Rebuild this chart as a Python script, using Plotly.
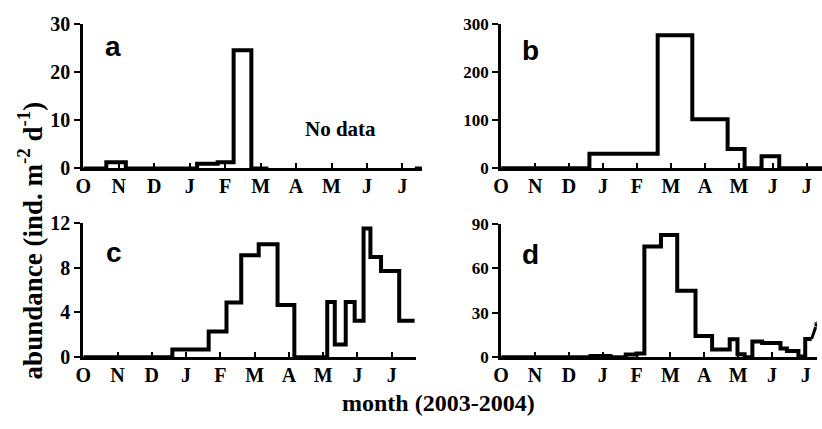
import plotly.graph_objects as go

W, H = 822, 429

months = ["O", "N", "D", "J", "F", "M", "A", "M", "J", "J"]
month_pos = list(range(10))

# Panel a (step edges in months since 1 Oct, values)
a_edges = [0, 0.65, 1.2, 3.21, 3.79, 4.24, 4.74, 5.22]
a_vals = [0, 1.3, 0, 1.0, 1.3, 24.5, 0]
a2_edges = [9.35, 9.55]
a2_vals = [0]

# Panel b
b_edges = [0, 2.6, 4.61, 5.63, 6.67, 7.17, 7.67, 8.19, 9.45]
b_vals = [0, 30, 277, 102, 40, 0, 25, 0]

# Panel c
c_edges = [0, 2.6, 3.66, 4.18, 4.61, 5.12, 5.67, 6.16, 7.12, 7.34, 7.66, 7.92, 8.18, 8.38, 8.69, 9.22, 9.67]
c_vals = [0, 0.7, 2.3, 4.9, 9.1, 10.1, 4.66, 0, 4.94, 1.13, 4.94, 3.25, 11.5, 8.96, 7.7, 3.25]

# Panel d
d_edges = [0, 2.64, 3.23, 3.68, 4.0, 4.23, 4.72, 5.2, 5.74, 6.23, 6.75, 6.98, 7.19, 7.42, 7.71, 8.25, 8.44, 8.78, 8.98, 9.17]
d_vals = [0, 0.9, 0, 1.9, 2.6, 74.7, 82.5, 44.8, 14.3, 5.3, 12.2, 2.1, 0, 10.7, 9.6, 6.0, 4.3, 0.6, 12.4]
d_tail_x = [9.17, 9.32]
d_tail_y = [12.4, 22.4]


def px_x(p):
    return p / W


def px_y(p):
    return 1 - p / H


def step_xy(edges, vals):
    return list(edges), list(vals) + [vals[-1]]


panels = {
    "a": dict(xl=76, xr=418, xmax=9.55, yb=166, yt=13.5, ymax=30, yticks=[0, 10, 20, 30], ysize=20),
    "b": dict(xl=498, xr=822, xmax=9.45, yb=165.7, yt=14, ymax=300, yticks=[0, 100, 200, 300], ysize=17),
    "c": dict(xl=76, xr=412, xmax=9.71, yb=365, yt=223.3, ymax=12, yticks=[0, 4, 8, 12], ysize=20),
    "d": dict(xl=498, xr=817, xmax=9.33, yb=365, yt=224.3, ymax=90, yticks=[0, 30, 60, 90], ysize=17),
}

fig = go.Figure()
line = dict(color="black", width=4)

series = {
    "a": [(a_edges, a_vals), (a2_edges, a2_vals)],
    "b": [(b_edges, b_vals)],
    "c": [(c_edges, c_vals)],
    "d": [(d_edges, d_vals)],
}

layout = {}
for i, key in enumerate(["a", "b", "c", "d"]):
    n = i + 1
    xa = "x" if n == 1 else f"x{n}"
    ya = "y" if n == 1 else f"y{n}"
    for edges, vals in series[key]:
        x, y = step_xy(edges, vals)
        fig.add_trace(go.Scatter(x=x, y=y, mode="lines", line=dict(shape="hv", **line),
                                 xaxis=xa, yaxis=ya, showlegend=False, hoverinfo="skip"))
    p = panels[key]
    xname = "xaxis" if n == 1 else f"xaxis{n}"
    yname = "yaxis" if n == 1 else f"yaxis{n}"
    layout[xname] = dict(
        domain=[px_x(p["xl"]), min(1.0, px_x(p["xr"]))],
        range=[0, p["xmax"]], anchor=ya,
        showline=True, linecolor="black", linewidth=3,
        showgrid=False, zeroline=False,
        tickvals=month_pos, ticktext=months,
        ticks="inside", ticklen=5, tickwidth=2, tickcolor="black",
        tickfont=dict(family="Liberation Serif", size=20, color="black", weight="bold"),
        ticklabelstandoff=-2,
    )
    layout[yname] = dict(
        domain=[px_y(p["yb"]), px_y(p["yt"])],
        range=[0, p["ymax"]], anchor=xa,
        showline=True, linecolor="black", linewidth=3,
        showgrid=False, zeroline=False,
        tickvals=p["yticks"],
        ticks="outside", ticklen=6, tickwidth=2, tickcolor="black",
        tickfont=dict(family="Liberation Serif", size=p["ysize"], color="black", weight="bold"),
    )

fig.add_trace(go.Scatter(x=d_tail_x, y=d_tail_y, mode="lines+markers",
                         line=dict(color="black", width=3),
                         marker=dict(size=[0, 6], color="black"),
                         xaxis="x4", yaxis="y4", showlegend=False, hoverinfo="skip"))

anns = []
for key, (cx, cy) in {"a": (106, 37), "b": (528, 42), "c": (107, 255), "d": (528, 257)}.items():
    anns.append(dict(text=key, x=px_x(cx), y=px_y(cy), xref="paper", yref="paper",
                     showarrow=False, xanchor="center", yanchor="middle",
                     font=dict(family="Liberation Sans", size=28, color="black", weight="bold")))
anns.append(dict(text="No data", x=px_x(336), y=px_y(124), xref="paper", yref="paper",
                 showarrow=False, xanchor="center", yanchor="middle",
                 font=dict(family="Liberation Serif", size=21, color="black", weight="bold")))
anns.append(dict(text="abundance (ind. m<sup>-2</sup> d<sup>-1</sup>)", x=px_x(22), y=px_y(242),
                 xref="paper", yref="paper", showarrow=False, textangle=-90,
                 xanchor="center", yanchor="middle",
                 font=dict(family="Liberation Serif", size=27, color="black", weight="bold")))
anns.append(dict(text="month (2003-2004)", x=px_x(435), y=px_y(413), xref="paper", yref="paper",
                 showarrow=False, xanchor="center", yanchor="middle",
                 font=dict(family="Liberation Serif", size=24, color="black", weight="bold")))

fig.update_layout(
    width=W, height=H, margin=dict(l=0, r=0, t=0, b=0),
    paper_bgcolor="white", plot_bgcolor="white",
    annotations=anns, **layout,
)

fig.write_html("out.html")
